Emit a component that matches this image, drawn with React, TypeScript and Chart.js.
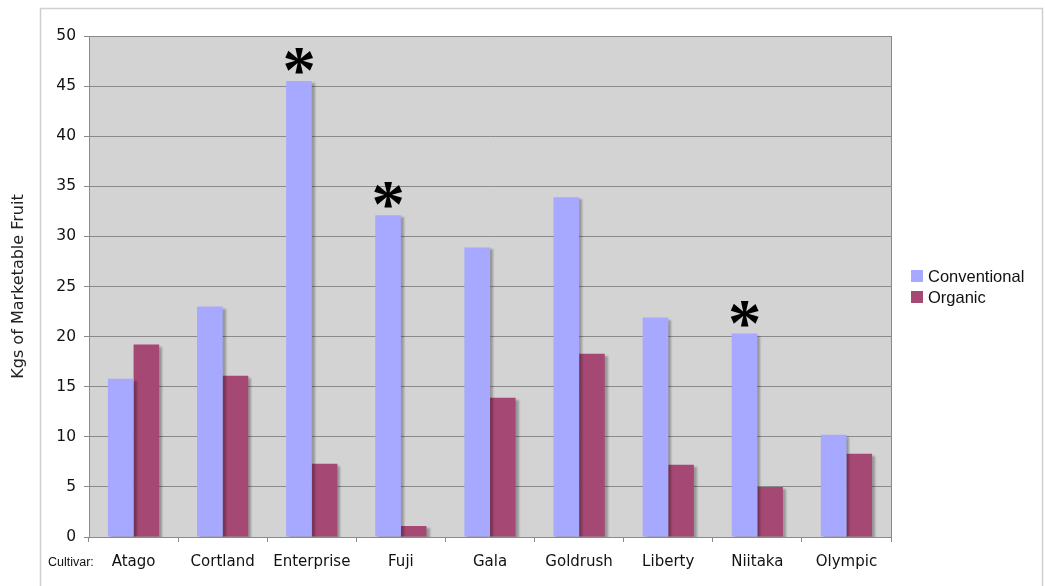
import React, { useEffect, useRef } from "react";
import { Chart, registerables } from "chart.js";

Chart.register(...registerables);

const cultivars = ["Atago", "Cortland", "Enterprise", "Fuji", "Gala", "Goldrush", "Liberty", "Niitaka", "Olympic"];
const conventional = [15.8, 23.0, 45.5, 32.1, 28.9, 33.9, 21.9, 20.3, 10.2];
const organic = [19.2, 16.1, 7.3, 1.1, 13.9, 18.3, 7.2, 5.0, 8.3];
// cultivars where the conventional yield differs significantly
const significant = [false, false, true, true, false, false, false, true, false];

const seriesNames = ["Conventional", "Organic"];
const seriesColors = ["#A6A9FF", "#A54873"];

const W = 1045;
const H = 586;

const framePlugin = {
  id: "frame",
  beforeDraw(chart: any) {
    const { ctx, chartArea } = chart;
    ctx.save();
    ctx.fillStyle = "#ffffff";
    ctx.fillRect(0, 0, W, H);
    ctx.strokeStyle = "#cfcfcf";
    ctx.lineWidth = 1.5;
    ctx.strokeRect(40.5, 8.5, 1002, 600);
    ctx.fillStyle = "#d3d3d3";
    ctx.fillRect(chartArea.left, chartArea.top, chartArea.right - chartArea.left, chartArea.bottom - chartArea.top);
    ctx.restore();
  },
  beforeDatasetsDraw(chart: any) {
    const { ctx, chartArea } = chart;
    ctx.save();
    ctx.strokeStyle = "#8a8a8a";
    ctx.lineWidth = 1;
    ctx.beginPath();
    ctx.moveTo(chartArea.right + 0.5, chartArea.top);
    ctx.lineTo(chartArea.right + 0.5, chartArea.bottom);
    ctx.stroke();
    ctx.restore();
  },
};

const shadowPlugin = {
  id: "barShadow",
  beforeDatasetDraw(chart: any) {
    const ctx = chart.ctx;
    ctx.save();
    ctx.shadowColor = "rgba(0,0,0,0.28)";
    ctx.shadowOffsetX = 3;
    ctx.shadowOffsetY = 2;
    ctx.shadowBlur = 2;
  },
  afterDatasetDraw(chart: any) {
    chart.ctx.restore();
  },
};

const annotationPlugin = {
  id: "annotations",
  afterDraw(chart: any) {
    const { ctx } = chart;
    const meta = chart.getDatasetMeta(0);
    ctx.save();

    // significance asterisks above conventional bars
    ctx.textAlign = "left";
    ctx.textBaseline = "alphabetic";
    ctx.font = "bold 100px 'Liberation Serif'";
    const m = ctx.measureText("*");
    const glyphW = m.actualBoundingBoxLeft + m.actualBoundingBoxRight;
    const size = (100 * 28) / glyphW;
    ctx.font = `bold ${size}px 'Liberation Serif'`;
    const mm = ctx.measureText("*");
    ctx.fillStyle = "#000";
    significant.forEach((flag, i) => {
      if (!flag) return;
      const bar = meta.data[i];
      const bottom = bar.y - 7;
      const x0 = bar.x + (mm.actualBoundingBoxLeft - mm.actualBoundingBoxRight) / 2;
      ctx.fillText("*", x0, bottom - mm.actualBoundingBoxDescent);
    });

    // axis caption
    ctx.font = "12.5px 'Liberation Sans'";
    ctx.fillStyle = "#111";
    ctx.textAlign = "left";
    ctx.fillText("Cultivar:", 48, 566);

    // legend
    ctx.font = "16.5px 'Liberation Sans'";
    ctx.textBaseline = "middle";
    seriesNames.forEach((name, i) => {
      const y = 277 + i * 21;
      ctx.fillStyle = seriesColors[i];
      ctx.fillRect(911, y - 7, 12, 12);
      ctx.fillStyle = "#111";
      ctx.fillText(name, 928, y);
    });
    ctx.restore();
  },
};

export default function App() {
  const ref = useRef<HTMLCanvasElement | null>(null);

  useEffect(() => {
    if (!ref.current) return;
    const chart = new Chart(ref.current, {
      type: "bar",
      data: {
        labels: cultivars,
        datasets: [
          { label: seriesNames[0], data: conventional, backgroundColor: seriesColors[0] },
          { label: seriesNames[1], data: organic, backgroundColor: seriesColors[1] },
        ],
      },
      options: {
        responsive: false,
        animation: false,
        devicePixelRatio: 1,
        layout: { padding: { left: 0, top: 36, right: 154, bottom: 0 } },
        datasets: { bar: { categoryPercentage: 0.575, barPercentage: 1 } },
        plugins: { legend: { display: false }, tooltip: { enabled: false } },
        scales: {
          x: {
            grid: { display: true, drawOnChartArea: false, drawTicks: true, tickLength: 5, color: "#8a8a8a", offset: true },
            border: { display: true, color: "#8a8a8a", width: 1 },
            ticks: {
              font: { family: "'DejaVu Sans'", size: 15 },
              color: "#111",
              padding: 11,
              maxRotation: 0,
              autoSkip: false,
            },
            afterFit: (s: any) => {
              s.height = 49;
            },
          },
          y: {
            min: 0,
            max: 50,
            grid: { color: "#8a8a8a", lineWidth: 1, tickLength: 5 },
            border: { display: true, color: "#8a8a8a", width: 1 },
            ticks: {
              stepSize: 5,
              font: { family: "'DejaVu Sans'", size: 15.5 },
              color: "#111",
              padding: 8,
            },
            title: {
              display: true,
              text: "Kgs of Marketable Fruit",
              font: { family: "'DejaVu Sans'", size: 16 },
              color: "#222",
              padding: { top: 9, bottom: 0 },
            },
            afterFit: (s: any) => {
              s.width = 89;
            },
          },
        },
      },
      plugins: [framePlugin, shadowPlugin, annotationPlugin],
    });
    return () => chart.destroy();
  }, []);

  return (
    <div style={{ position: "fixed", left: 0, top: 0, width: W, height: H }}>
      <canvas ref={ref} width={W} height={H} style={{ display: "block" }} />
    </div>
  );
}
